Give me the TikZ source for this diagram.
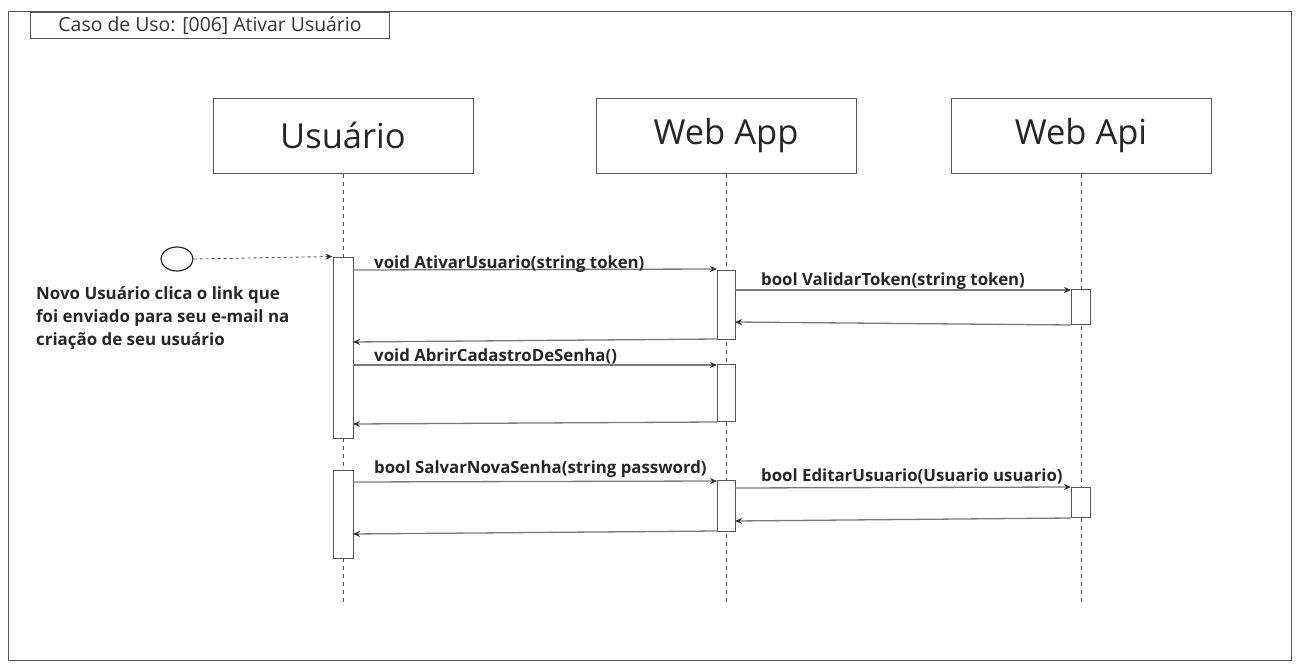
\documentclass[tikz,border=0pt]{standalone}
\usepackage{fontspec}
\setmainfont{Open Sans}
\usetikzlibrary{arrows.meta,calc,shapes.geometric}
\definecolor{edge}{HTML}{555555}
\definecolor{msg}{HTML}{7A7A7A}
\begin{document}
\begin{tikzpicture}[x=1pt,y=-1pt,
  frame/.style={draw=edge,line width=1pt},
  actor/.style={draw=edge,line width=1pt,fill=white,minimum width=260pt,minimum height=75pt,inner sep=0pt,font=\fontsize{34.5}{40}\selectfont,text=black!85},
  act/.style={draw=edge,line width=1pt,fill=white,inner sep=0pt},
  life/.style={draw=edge,line width=0.8pt,dash pattern=on 4pt off 4pt},
  call/.style={draw=msg,line width=1.3pt,-{Stealth[length=7pt,width=6pt,black!80]}},
  lbl/.style={font=\fontsize{16.8}{19}\selectfont\bfseries,text=black!85,anchor=base west,inner sep=0pt}]
\useasboundingbox (0,0) rectangle (1299,669);

% diagram frame and title tab
\draw[frame] (8,12) rectangle (1291,660);
\node[frame,draw,anchor=north west,minimum width=359pt,minimum height=26pt,inner sep=0pt,fill=white,
  font=\fontsize{19.4}{22}\selectfont,text=black!80] (title) at (30,12) {Caso de Uso: [006] Ativar Usuário};

% participants
\node[actor] (usr) at (343,135.5) {Usuário};
\node[actor] (app) at (726,135.5) {Web App};
\node[actor] (api) at (1081,135.5) {Web Api};

% lifelines
\coordinate (usrEnd) at (343,605);
\coordinate (appEnd) at (726,605);
\coordinate (apiEnd) at (1081,605);
\draw[life] (usr.south) -- (usrEnd);
\draw[life] (app.south) -- (appEnd);
\draw[life] (api.south) -- (apiEnd);

% activation bars
\node[act,minimum width=20pt,minimum height=181pt] (u1) at (343,347.5) {};
\node[act,minimum width=20pt,minimum height=88pt] (u2) at (343,514) {};
\node[act,minimum width=18pt,minimum height=69pt] (a1) at (726,304.5) {};
\node[act,minimum width=18pt,minimum height=57pt] (a2) at (726,392.5) {};
\node[act,minimum width=18pt,minimum height=51pt] (a3) at (726,505.5) {};
\node[act,minimum width=19pt,minimum height=35pt] (p1) at (1080.5,306.5) {};
\node[act,minimum width=19pt,minimum height=30pt] (p2) at (1080.5,502) {};

% initial event
\node[draw=black!85,line width=1.2pt,ellipse,minimum width=32pt,minimum height=24pt,inner sep=0pt] (start) at (177,259) {};
\draw[edge,line width=0.9pt,dash pattern=on 3pt off 3pt,-{Stealth[length=7pt,width=6pt,black!80]}] (start.east) -- (u1.north west);
\node[anchor=north west,align=left,inner sep=0pt,font=\fontsize{16.9}{23}\selectfont\bfseries,text=black!85] (note) at (36,286)
  {Novo Usuário clica o link que\\foi enviado para seu e-mail na\\criação de seu usuário};

% message anchor points
\coordinate (m1s) at (353,270);  \coordinate (m1e) at (717,269);
\coordinate (m2s) at (735,290);  \coordinate (m2e) at (1071,290);
\coordinate (r2s) at (1071,325); \coordinate (r2e) at (735,322);
\coordinate (r1s) at (717,339);  \coordinate (r1e) at (353,342);
\coordinate (m3s) at (353,365);  \coordinate (m3e) at (717,365);
\coordinate (r3s) at (717,422);  \coordinate (r3e) at (353,424);
\coordinate (m4s) at (353,482);  \coordinate (m4e) at (717,481);
\coordinate (m5s) at (735,488);  \coordinate (m5e) at (1071,487);
\coordinate (r5s) at (1071,518); \coordinate (r5e) at (735,521);
\coordinate (r4s) at (717,531);  \coordinate (r4e) at (353,534);

% messages
\draw[call] (m1s) -- (m1e);
\draw[call] (m2s) -- (m2e);
\draw[call] (r2s) -- (r2e);
\draw[call] (r1s) -- (r1e);
\draw[call] (m3s) -- (m3e);
\draw[call] (r3s) -- (r3e);
\draw[call] (m4s) -- (m4e);
\draw[call] (m5s) -- (m5e);
\draw[call] (r5s) -- (r5e);
\draw[call] (r4s) -- (r4e);

% message labels
\node[lbl] (l1) at (374,268) {void AtivarUsuario(string token)};
\node[lbl] (l2) at (761,285) {bool ValidarToken(string token)};
\node[lbl] (l3) at (374,361) {void AbrirCadastroDeSenha()};
\node[lbl] (l4) at (374,473) {bool SalvarNovaSenha(string password)};
\node[lbl] (l5) at (761,481) {bool EditarUsuario(Usuario usuario)};
\end{tikzpicture}
\end{document}
